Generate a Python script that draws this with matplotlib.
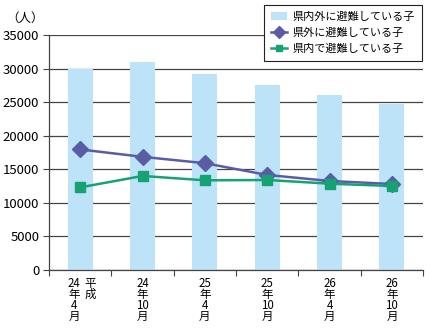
import numpy as np
import matplotlib
matplotlib.use('Agg')
import matplotlib.pyplot as plt
from matplotlib.patches import Patch
from matplotlib.lines import Line2D

plt.rcParams['font.family'] = ['Noto Sans CJK JP', 'DejaVu Sans']

# 調査時点
periods = ['24\n年\n4\n月', '24\n年\n10\n月', '25\n年\n4\n月',
           '25\n年\n10\n月', '26\n年\n4\n月', '26\n年\n10\n月']
total = [30000, 31000, 29200, 27550, 26050, 24750]   # 県内外に避難している子
outside = [17950, 16850, 15900, 14150, 13250, 12800]  # 県外に避難している子
inside = [12300, 14000, 13350, 13400, 12850, 12500]   # 県内で避難している子

bar_color = '#bde3f8'
blue = '#5a5ca6'
green = '#17a273'
grid_color = '#444444'

fig = plt.figure(figsize=(4.3, 3.3), dpi=100)
ax = fig.add_axes([0.114, 0.182, 0.870, 0.712])

x = np.arange(len(periods))
ax.bar(x, total, width=0.4, color=bar_color, zorder=2)
ax.plot(x, outside, color=blue, lw=1.8, marker='D', ms=8, zorder=3)
ax.plot(x, inside, color=green, lw=1.8, marker='s', ms=7, zorder=4)

ax.set_xlim(-0.5, len(periods) - 0.5)
ax.set_ylim(0, 35000)
ax.set_yticks(np.arange(0, 35001, 5000))
ax.yaxis.grid(True, color=grid_color, lw=0.9, zorder=1)
ax.set_axisbelow(True)
ax.tick_params(axis='y', length=4, width=0.8, color=grid_color, labelsize=9.5, pad=3)

# 区切りの目盛りは下向き、ラベルは縦書き
ax.set_xticks(np.arange(-0.5, len(periods), 1.0))
ax.set_xticklabels([])
ax.tick_params(axis='x', length=4, width=0.8, color=grid_color, direction='out')
for i, lab in enumerate(periods):
    xpos = i - 0.1 if i == 0 else i   # 最初だけ「平成」の分ずらす
    ax.text(xpos, -1000, lab, ha='center', va='top', fontsize=8.3, linespacing=0.82)
ax.text(0.16, -1000, '平\n成', ha='center', va='top', fontsize=8.3, linespacing=0.82)

for s in ['top', 'right']:
    ax.spines[s].set_visible(False)
for s in ['left', 'bottom']:
    ax.spines[s].set_color(grid_color)
    ax.spines[s].set_linewidth(0.9)

fig.text(0.015, 0.945, '（人）', fontsize=9, va='center', ha='left')

handles = [Patch(facecolor=bar_color, edgecolor='none'),
           Line2D([], [], color=blue, lw=1.8, marker='D', ms=6),
           Line2D([], [], color=green, lw=1.8, marker='s', ms=5)]
labels = ['県内外に避難している子', '県外に避難している子', '県内で避難している子']
leg = fig.legend(handles, labels, loc='upper left', bbox_to_anchor=(0.614, 0.985),
                 fontsize=8, frameon=True, fancybox=False, borderpad=0.6,
                 labelspacing=0.55, handlelength=1.5, handletextpad=0.5,
                 borderaxespad=0)
leg.get_frame().set_edgecolor('#222222')
leg.get_frame().set_linewidth(0.8)
leg.get_frame().set_alpha(1)

fig.savefig('out.png', dpi=100)
